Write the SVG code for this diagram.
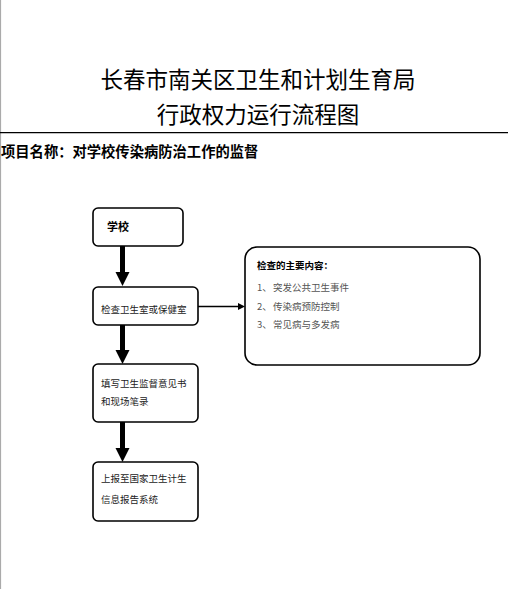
<svg xmlns="http://www.w3.org/2000/svg" width="531" height="589" viewBox="0 0 531 589">
<style>
.t{font-family:"Noto Sans CJK SC","Liberation Sans",sans-serif;fill:#000}
.title{font-size:22.5px}
.head{font-size:14.3px;font-weight:bold}
.lbl{font-size:9.5px;fill:#222}
.item{font-size:9.5px;fill:#555}
.box{fill:#fff;stroke:#000;stroke-width:1.6}
.thick{stroke:#000;stroke-width:5;fill:none}
</style>
<rect x="0" y="0" width="531" height="589" fill="#fff"/>
<line x1="0.5" y1="0" x2="0.5" y2="589" stroke="#aaa" stroke-width="1.2"/>
<text class="t title" x="258" y="88" text-anchor="middle">长春市南关区卫生和计划生育局</text>
<text class="t title" x="258" y="123" text-anchor="middle">行政权力运行流程图</text>
<line x1="0" y1="132.7" x2="508" y2="132.7" stroke="#000" stroke-width="1.3"/>
<text class="t head" x="1" y="157">项目名称：对学校传染病防治工作的监督</text>
<g id="connectors">
<line class="thick" x1="122.5" y1="246" x2="122.5" y2="274"/>
<polygon points="115.5,272 129.5,272 122.5,286" fill="#000"/>
<line class="thick" x1="122.5" y1="325" x2="122.5" y2="352"/>
<polygon points="115.5,350 129.5,350 122.5,364" fill="#000"/>
<line class="thick" x1="122.5" y1="422" x2="122.5" y2="450"/>
<polygon points="115.5,448 129.5,448 122.5,462" fill="#000"/>
<line x1="198" y1="306.5" x2="240" y2="306.5" stroke="#000" stroke-width="1.5"/>
<polygon points="238,303 245,306.5 238,310" fill="#000"/>
</g>
<g id="n1">
<rect class="box" x="93" y="208" width="90" height="38" rx="5"/>
<text class="t" x="107" y="231" font-size="11" font-weight="bold">学校</text>
</g>
<g id="n2">
<rect class="box" x="93" y="287" width="105" height="38" rx="5"/>
<text class="t lbl" x="101" y="313">检查卫生室或保健室</text>
</g>
<g id="n3">
<rect class="box" x="245" y="247" width="235" height="118" rx="12"/>
<text class="t" x="257" y="269" font-size="9.5" font-weight="bold">检查的主要内容：</text>
<text class="t item" x="257" y="291">1、</text>
<text class="t item" x="273" y="291">突发公共卫生事件</text>
<text class="t item" x="257" y="310">2、</text>
<text class="t item" x="273" y="310">传染病预防控制</text>
<text class="t item" x="257" y="328">3、</text>
<text class="t item" x="273" y="328">常见病与多发病</text>
</g>
<g id="n4">
<rect class="box" x="93" y="364" width="105" height="58" rx="5"/>
<text class="t lbl" x="101" y="387">填写卫生监督意见书</text>
<text class="t lbl" x="101" y="405">和现场笔录</text>
</g>
<g id="n5">
<rect class="box" x="93" y="462" width="105" height="59" rx="5"/>
<text class="t lbl" x="101" y="482">上报至国家卫生计生</text>
<text class="t lbl" x="101" y="503">信息报告系统</text>
</g>
</svg>
